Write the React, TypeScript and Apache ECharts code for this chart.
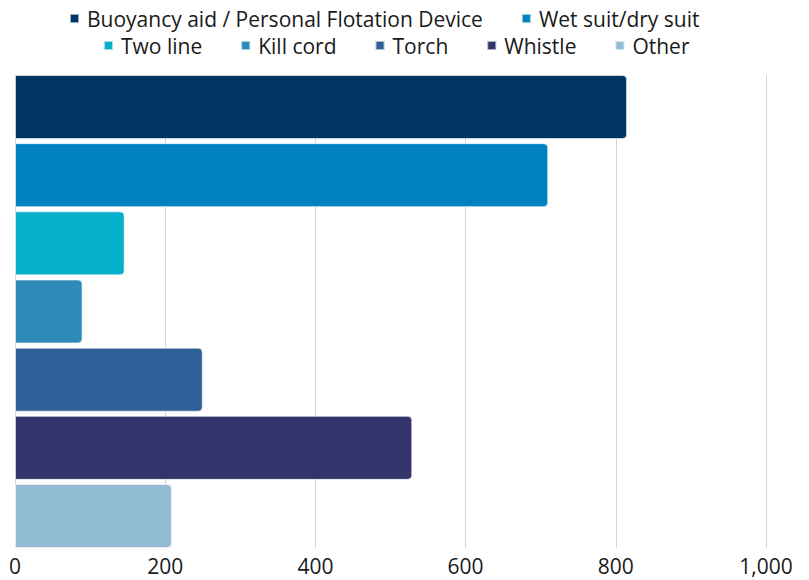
import React, { useEffect, useRef } from "react";
import * as echarts from "echarts";

const categories = ["Equipment"];
const seriesNames = [
  "Buoyancy aid / Personal Flotation Device",
  "Wet suit/dry suit",
  "Two line",
  "Kill cord",
  "Torch",
  "Whistle",
  "Other",
];
const seriesValues = [815, 710, 146, 90, 250, 529, 209];
const seriesColors = ["#003462", "#0082BF", "#06AFCA", "#2E8AB9", "#2E5F97", "#33346B", "#92BCD3"];
const xTicks = { min: 0, max: 1000, interval: 200 };

export default function App() {
  const ref = useRef<HTMLDivElement>(null);
  useEffect(() => {
    if (!ref.current) return;
    const chart = echarts.init(ref.current, null, { renderer: "svg" });
    const font = "'Open Sans', sans-serif";
    const legendBase = {
      padding: 0,
      itemWidth: 9,
      itemHeight: 9,
      itemGap: 38,
      icon: "rect",
      textStyle: { fontSize: 21, color: "#1a1a1a", fontFamily: font, padding: [0, 0, 0, 3] },
    };
    chart.setOption({
      animation: false,
      textStyle: { fontFamily: font },
      legend: [
        { ...legendBase, left: 69, top: 8, data: seriesNames.slice(0, 2) },
        { ...legendBase, left: 103, top: 35, data: seriesNames.slice(2) },
      ],
      grid: { left: 15, right: 43, top: 75, bottom: 32, containLabel: false },
      xAxis: {
        type: "value",
        min: xTicks.min,
        max: xTicks.max,
        interval: xTicks.interval,
        axisLine: { show: false },
        axisTick: { show: false },
        splitLine: { show: true, lineStyle: { color: "#d4d4d4", width: 1 } },
        axisLabel: {
          fontSize: 21,
          color: "#1a1a1a",
          fontFamily: font,
          margin: 7,
          formatter: (v: number) => v.toLocaleString("en-US"),
        },
      },
      yAxis: {
        type: "category",
        data: categories,
        inverse: true,
        axisLine: { show: false },
        axisTick: { show: false },
        axisLabel: { show: false },
      },
      series: seriesNames.map((name, i) => ({
        name,
        type: "bar",
        data: [seriesValues[i]],
        barCategoryGap: "0%",
        barGap: "6.5%",
        itemStyle: {
          color: seriesColors[i],
          borderRadius: [0, 4, 4, 0],
          borderColor: "rgba(255,255,255,0.6)",
          borderWidth: 1,
        },
      })),
    });
    return () => chart.dispose();
  }, []);
  return (
    <div
      ref={ref}
      style={{ position: "absolute", left: 0, top: 0, width: 809, height: 580 }}
    />
  );
}
